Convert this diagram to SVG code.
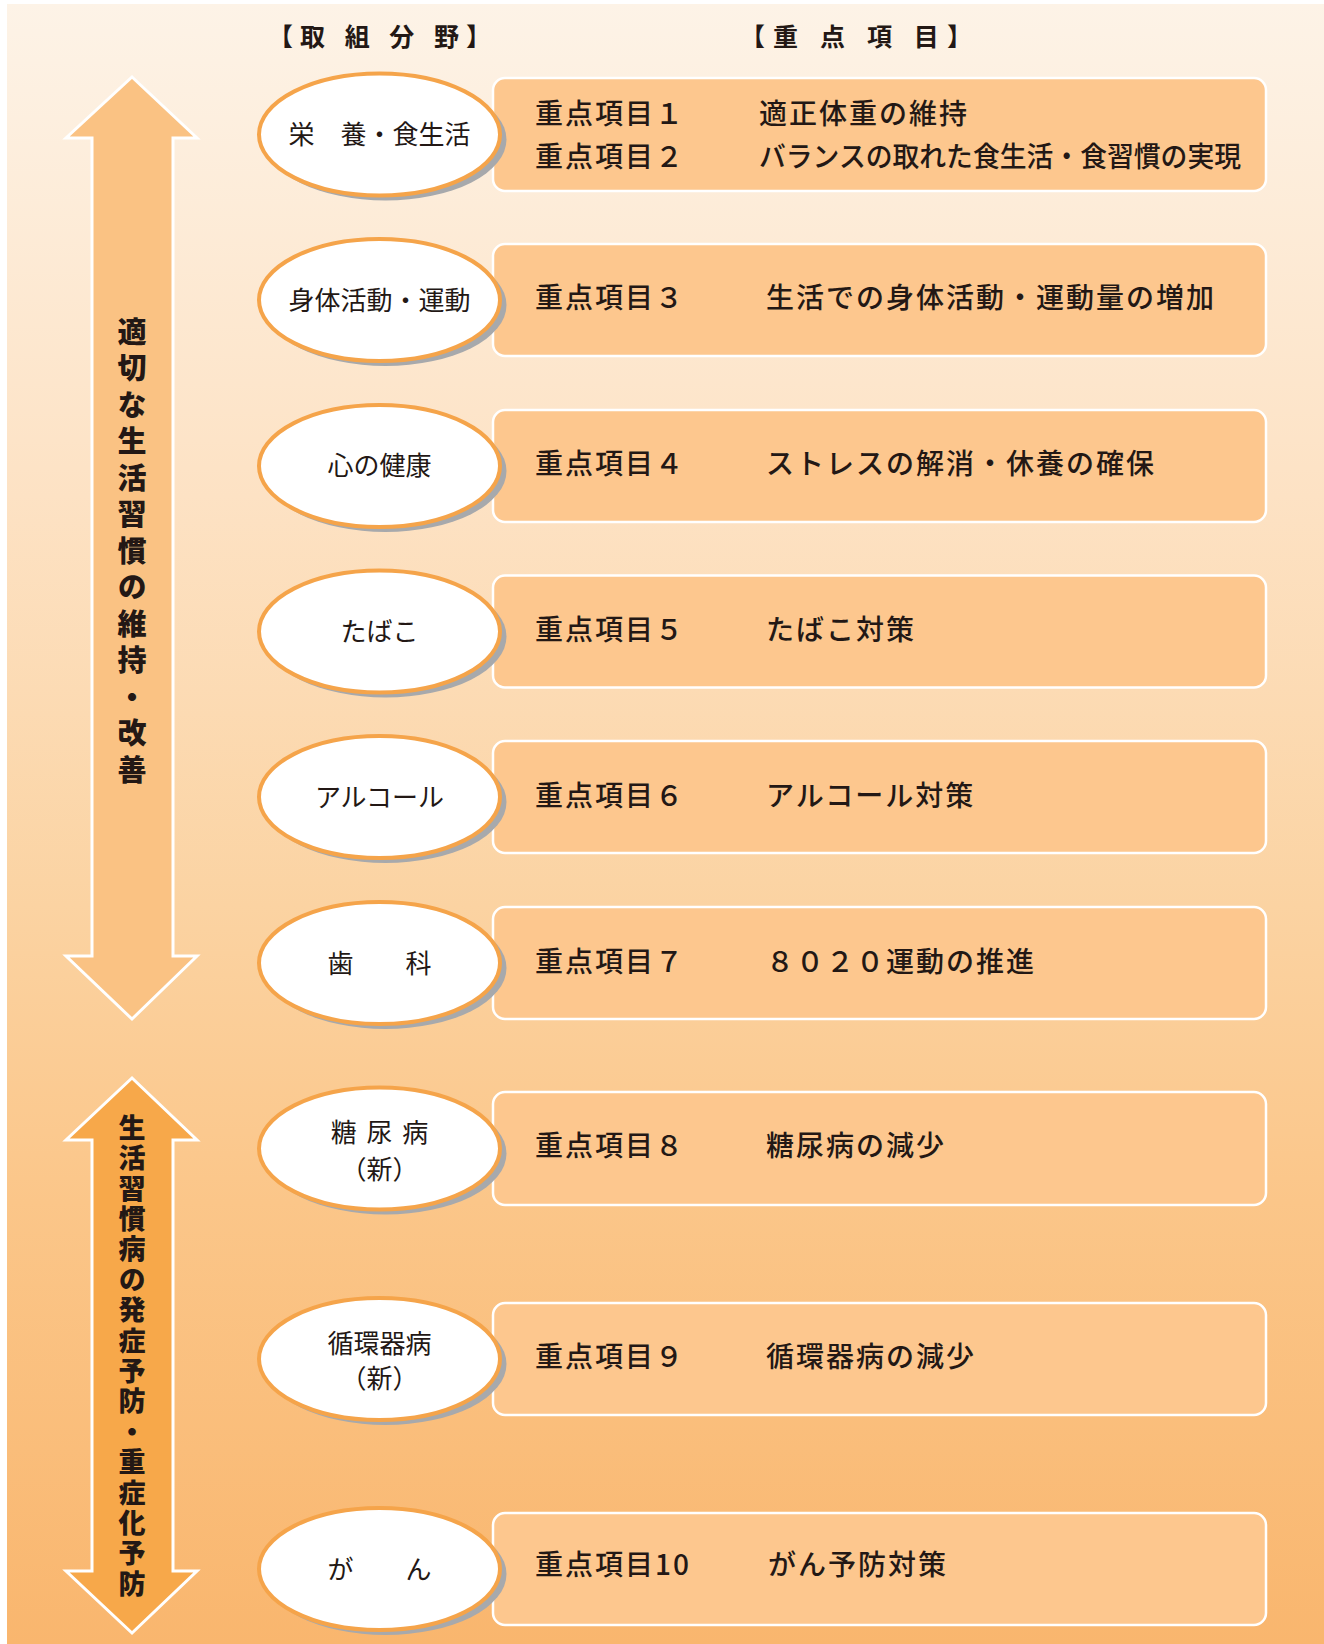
<svg xmlns="http://www.w3.org/2000/svg" width="1324" height="1644" viewBox="0 0 1324 1644">
<defs>
<linearGradient id="bg" x1="0" y1="0" x2="0" y2="1">
<stop offset="0" stop-color="#fdf3e7"/>
<stop offset="0.3" stop-color="#fde2c4"/>
<stop offset="0.55" stop-color="#fbd3a2"/>
<stop offset="0.73" stop-color="#fbc689"/>
<stop offset="1" stop-color="#f9b66e"/>
</linearGradient>
<style>
.box{fill:#fdc78e;stroke:#ffffff;stroke-width:2.5}
.ell{fill:#ffffff;stroke:#f5a44a;stroke-width:4}
.sh{fill:#a7a9ac}
.arr{stroke:#ffffff;stroke-width:3;stroke-linejoin:miter}
.t{font-family:"Noto Sans CJK JP","Noto Sans CJK SC",sans-serif;fill:#231815}
.bt{font-size:28px;letter-spacing:2px;font-weight:500}
.et{font-size:26px;text-anchor:middle}
.hd{font-size:25px;font-weight:bold}
.vt{font-weight:900;writing-mode:vertical-rl;text-anchor:start}
</style>
</defs>
<rect x="7" y="4" width="1317" height="1640" fill="url(#bg)"/>

<g id="headers">
<text class="t hd" x="268" y="46" textLength="223" lengthAdjust="spacing">【取 組 分 野】</text>
<text class="t hd" x="740" y="46" textLength="232" lengthAdjust="spacing">【重 点 項 目】</text>
</g>

<g id="arrow1">
<polygon class="arr" fill="#fac283" points="132,77 197,138 173,138 173,956 197,956 132,1019 66,956 92,956 92,138 66,138"/>
<text class="t vt" x="132" y="317" font-size="29" letter-spacing="7.5">適切な生活習慣の維持・改善</text>
</g>

<g id="arrow2">
<polygon class="arr" fill="#f7a84a" points="132,1078 197,1140 173,1140 173,1571 197,1571 132,1633 66,1571 92,1571 92,1140 66,1140"/>
<text class="t vt" x="132" y="1114" font-size="27" letter-spacing="3.4">生活習慣病の発症予防・重症化予防</text>
</g>

<g id="connectors"></g>

<g id="item1">
<rect class="box" x="493" y="78" width="773" height="113" rx="12"/>
<text class="t bt" x="535" y="123.5">重点項目１</text>
<text class="t bt" x="759" y="123.5">適正体重の維持</text>
<text class="t bt" x="535" y="166.5">重点項目２</text>
<text class="t bt" x="759" y="166.5" style="letter-spacing:0" textLength="482" lengthAdjust="spacingAndGlyphs">バランスの取れた食生活・食習慣の実現</text>
</g>
<g id="area1">
<ellipse class="sh" cx="385.5" cy="139.5" rx="121" ry="61"/>
<ellipse class="ell" cx="379.5" cy="134.5" rx="120.5" ry="61"/>
<text class="t et" x="379.5" y="144">栄　養・食生活</text>
</g>

<g id="item2">
<rect class="box" x="493" y="244" width="773" height="112" rx="12"/>
<text class="t bt" x="535" y="308">重点項目３</text>
<text class="t bt" x="766" y="308">生活での身体活動・運動量の増加</text>
</g>
<g id="area2">
<ellipse class="sh" cx="385.5" cy="305" rx="121" ry="61"/>
<ellipse class="ell" cx="379.5" cy="300" rx="120.5" ry="61"/>
<text class="t et" x="379.5" y="310">身体活動・運動</text>
</g>

<g id="item3">
<rect class="box" x="493" y="410" width="773" height="112" rx="12"/>
<text class="t bt" x="535" y="474">重点項目４</text>
<text class="t bt" x="766" y="474">ストレスの解消・休養の確保</text>
</g>
<g id="area3">
<ellipse class="sh" cx="385.5" cy="471" rx="121" ry="61"/>
<ellipse class="ell" cx="379.5" cy="466" rx="120.5" ry="61"/>
<text class="t et" x="379.5" y="475">心の健康</text>
</g>

<g id="item4">
<rect class="box" x="493" y="575.5" width="773" height="112" rx="12"/>
<text class="t bt" x="535" y="640">重点項目５</text>
<text class="t bt" x="766" y="640">たばこ対策</text>
</g>
<g id="area4">
<ellipse class="sh" cx="385.5" cy="636.5" rx="121" ry="61"/>
<ellipse class="ell" cx="379.5" cy="631.5" rx="120.5" ry="61"/>
<text class="t et" x="379.5" y="641">たばこ</text>
</g>

<g id="item5">
<rect class="box" x="493" y="741" width="773" height="112" rx="12"/>
<text class="t bt" x="535" y="805.5">重点項目６</text>
<text class="t bt" x="766" y="805.5">アルコール対策</text>
</g>
<g id="area5">
<ellipse class="sh" cx="385.5" cy="802" rx="121" ry="61"/>
<ellipse class="ell" cx="379.5" cy="797" rx="120.5" ry="61"/>
<text class="t et" x="379.5" y="806.5">アルコール</text>
</g>

<g id="item6">
<rect class="box" x="493" y="907" width="773" height="112" rx="12"/>
<text class="t bt" x="535" y="971.5">重点項目７</text>
<text class="t bt" x="766" y="971.5">８０２０運動の推進</text>
</g>
<g id="area6">
<ellipse class="sh" cx="385.5" cy="968" rx="121" ry="61"/>
<ellipse class="ell" cx="379.5" cy="963" rx="120.5" ry="61"/>
<text class="t et" x="379.5" y="972.5">歯　　科</text>
</g>

<g id="item7">
<rect class="box" x="493" y="1092" width="773" height="113" rx="12"/>
<text class="t bt" x="535" y="1155.5">重点項目８</text>
<text class="t bt" x="766" y="1155.5">糖尿病の減少</text>
</g>
<g id="area7">
<ellipse class="sh" cx="385.5" cy="1153.5" rx="121" ry="61"/>
<ellipse class="ell" cx="379.5" cy="1148.5" rx="120.5" ry="61"/>
<text class="t et" x="379.5" y="1142" word-spacing="4">糖 尿 病</text>
<text class="t et" x="379.5" y="1179">（新）</text>
</g>

<g id="item8">
<rect class="box" x="493" y="1303" width="773" height="112" rx="12"/>
<text class="t bt" x="535" y="1367">重点項目９</text>
<text class="t bt" x="766" y="1367">循環器病の減少</text>
</g>
<g id="area8">
<ellipse class="sh" cx="385.5" cy="1364" rx="121" ry="61"/>
<ellipse class="ell" cx="379.5" cy="1359" rx="120.5" ry="61"/>
<text class="t et" x="379.5" y="1353">循環器病</text>
<text class="t et" x="379.5" y="1388">（新）</text>
</g>

<g id="item9">
<rect class="box" x="493" y="1513" width="773" height="112" rx="12"/>
<text class="t bt" x="535" y="1575">重点項目10</text>
<text class="t bt" x="768" y="1575">がん予防対策</text>
</g>
<g id="area9">
<ellipse class="sh" cx="385.5" cy="1574" rx="121" ry="61"/>
<ellipse class="ell" cx="379.5" cy="1569" rx="120.5" ry="61"/>
<text class="t et" x="379.5" y="1578.5">が　　ん</text>
</g>
</svg>
